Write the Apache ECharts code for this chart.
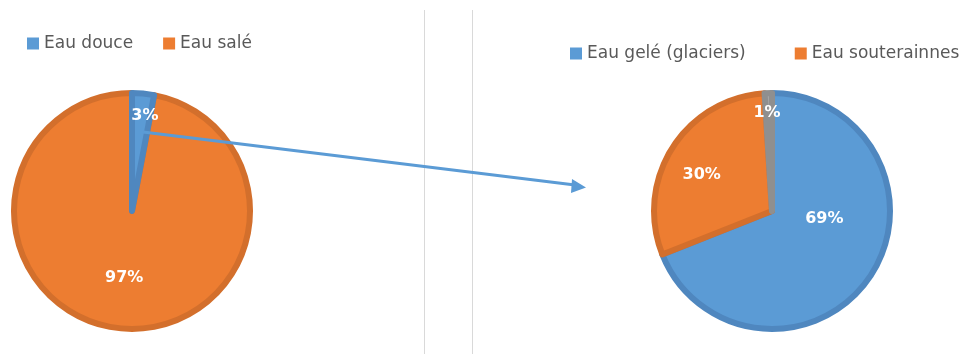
<!DOCTYPE html>
<html>
<head>
<meta charset="utf-8">
<script src="https://cdn.jsdelivr.net/npm/echarts@6/dist/echarts.min.js"></script>
<style>
  html, body { margin: 0; padding: 0; background: #ffffff; }
  #chart { width: 975px; height: 354px; }
</style>
</head>
<body>
<div id="chart"></div>
<script>
// données
var leftNames = ['Eau douce', 'Eau salé'];
var leftValues = [3, 97];
var rightNames = ['Eau gelé (glaciers)', 'Eau souterainnes', 'Eau de surface'];
var rightValues = [69, 30, 1];

// couleurs style Excel
var fillColors = ['#5b9bd5', '#ed7d31', '#a5a5a5'];
var edgeColors = ['#4f87bf', '#d36f2c', '#8f8f8f'];

// petits décalages des étiquettes (placement "best fit" d'Excel)
var leftNudge = [[7, -33], [-2, 5]];
var rightNudge = [[1, -27], [-18, -3], [-3, -36]];

function buildData(names, values) {
    return names.map(function (n, i) {
        return {
            name: n,
            value: values[i],
            nudge: i,
            itemStyle: { color: fillColors[i], borderColor: edgeColors[i] }
        };
    });
}

var chart = echarts.init(document.getElementById('chart'));

var labelStyle = {
    show: true,
    position: 'inside',
    formatter: '{c}%',
    color: '#ffffff',
    fontFamily: 'DejaVu Sans',
    fontWeight: 'bold',
    fontSize: 16
};

var legendText = {
    color: '#595959',
    fontFamily: 'DejaVu Sans',
    fontSize: 17
};

// la petite part "Eau douce" est dessinée en dernier pour rester au-dessus
var leftData = buildData(leftNames, leftValues).reverse();

var option = {
    animation: false,
    backgroundColor: '#ffffff',
    legend: [
        {
            left: 22,
            top: 30,
            icon: 'rect',
            itemWidth: 12,
            itemHeight: 12,
            itemGap: 30,
            selectedMode: false,
            itemStyle: { borderWidth: 0 },
            textStyle: legendText,
            data: leftNames
        },
        {
            left: 565,
            top: 40,
            icon: 'rect',
            itemWidth: 12,
            itemHeight: 12,
            itemGap: 49,
            selectedMode: false,
            itemStyle: { borderWidth: 0 },
            textStyle: legendText,
            data: rightNames.slice(0, 2)
        }
    ],
    graphic: [
        // séparateurs des deux graphiques
        { type: 'line', shape: { x1: 424.5, y1: 10, x2: 424.5, y2: 354 }, style: { stroke: '#d9d9d9', lineWidth: 1 } },
        { type: 'line', shape: { x1: 472.5, y1: 10, x2: 472.5, y2: 354 }, style: { stroke: '#d9d9d9', lineWidth: 1 } },
        // flèche
        { type: 'line', z: 10, shape: { x1: 143, y1: 132, x2: 575, y2: 185 }, style: { stroke: '#5b9bd5', lineWidth: 3 } },
        { type: 'polygon', z: 10, shape: { points: [[572, 179], [586, 187.5], [571, 193]] }, style: { fill: '#5b9bd5' } }
    ],
    series: [
        {
            type: 'pie',
            center: [132, 211],
            radius: 118,
            startAngle: 79.2,
            itemStyle: { borderWidth: 6 },
            label: labelStyle,
            labelLine: { show: false },
            emphasis: { disabled: true },
            labelLayout: function (p) {
                var n = leftNudge[leftData[p.dataIndex].nudge];
                return { dx: n[0], dy: n[1] };
            },
            data: leftData
        },
        {
            type: 'pie',
            center: [772, 211],
            radius: 118,
            startAngle: 90,
            itemStyle: { borderWidth: 6 },
            label: labelStyle,
            labelLine: { show: false },
            emphasis: { disabled: true },
            labelLayout: function (p) {
                var n = rightNudge[p.dataIndex];
                return { dx: n[0], dy: n[1] };
            },
            data: buildData(rightNames, rightValues)
        }
    ]
};

chart.setOption(option);
</script>
</body>
</html>
